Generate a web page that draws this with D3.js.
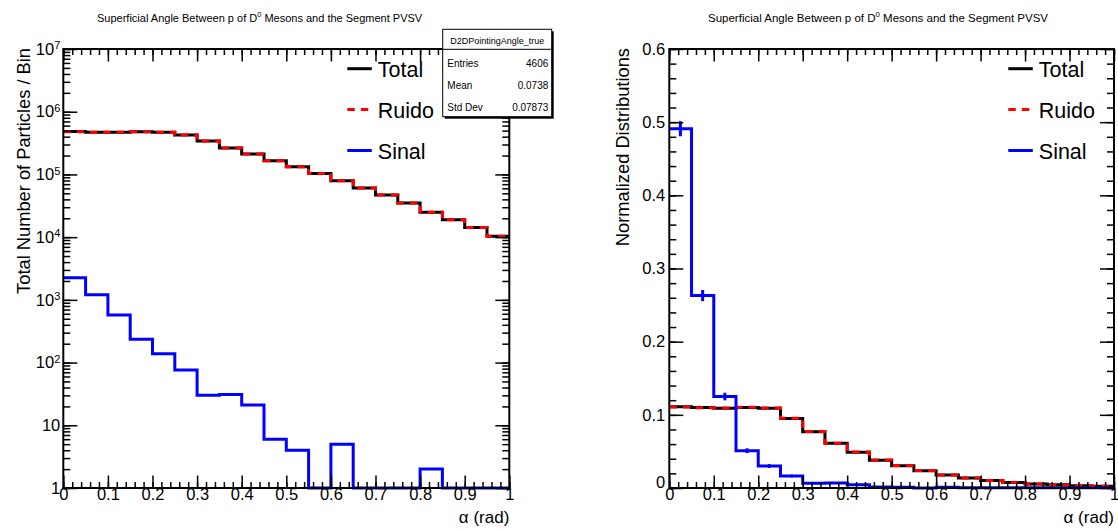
<!DOCTYPE html>
<html>
<head>
<meta charset="utf-8">
<script src="https://cdn.jsdelivr.net/npm/d3@7"></script>
<style>
  body { margin: 0; background: #fff; }
  svg { font-family: "Liberation Sans", Arial, Helvetica, sans-serif; }
</style>
</head>
<body>
<svg id="chart" width="1118" height="529"></svg>
<script>
// bin edges of the histograms (alpha in rad)
const binEdges = [0, 0.05, 0.1, 0.15, 0.2, 0.25, 0.3, 0.35, 0.4, 0.45, 0.5,
                  0.55, 0.6, 0.65, 0.7, 0.75, 0.8, 0.85, 0.9, 0.95, 1.0];

// left pad: raw counts per bin
const countsTotal = [482000, 472000, 472000, 478000, 470000, 427000, 342000, 265000, 212000, 166000,
                     132000, 103000, 79000, 61000, 47000, 35000, 25000, 19000, 14200, 10300];
const countsRuido = [479700, 470800, 471400, 477800, 469900, 426900, 341970, 264970, 211980, 165990,
                     131990, 103000, 78995, 60999, 46999, 34999, 24998, 18999, 14199, 10299];
const countsSinal = [2257, 1211, 576, 235, 138, 76, 30, 31, 21, 6,
                     4, 0, 5, 1, 1, 1, 2, 1, 1, 1];

// right pad: normalized distributions
const normTotal = [0.111, 0.110, 0.109, 0.110, 0.109, 0.095, 0.077, 0.061, 0.049, 0.038,
                   0.0305, 0.0237, 0.0178, 0.0135, 0.0102, 0.0075, 0.0056, 0.0043, 0.0032, 0.0023];
const normRuido = [0.1108, 0.1098, 0.1092, 0.1102, 0.1092, 0.0952, 0.0772, 0.0612, 0.0491, 0.0381,
                   0.0306, 0.0238, 0.0178, 0.0136, 0.0102, 0.0075, 0.0056, 0.0043, 0.0032, 0.0023];
const normSinal = [0.491, 0.263, 0.125, 0.051, 0.030, 0.0165, 0.0065, 0.0067, 0.0046, 0.0013,
                   0.0009, 0, 0.0011, 0.0002, 0.0002, 0.0002, 0.0004, 0.0002, 0.0002, 0.0002];
const errSinal  = [0.0103, 0.0076, 0.0052, 0.0033, 0.0026, 0.0019, 0.0012, 0.0012, 0.0010, 0.0005,
                   0.0004, 0, 0.0005, 0.0002, 0.0002, 0.0002, 0.0003, 0.0002, 0.0002, 0.0002];

const legendLabels = ['Total', 'Ruido', 'Sinal'];
const statsLabels = ['Entries', 'Mean', 'Std Dev'];
const statsValues = ['4606', '0.0738', '0.07873'];

const svg = d3.select('#chart');
svg.append('rect').attr('width', 1118).attr('height', 529).attr('fill', '#fff');

const styles = [
  { color: '#000', dash: null },
  { color: '#ff0000', dash: '7.5,6' },
  { color: '#0000ff', dash: null }
];

function drawPanel(p) {
  const x = d3.scaleLinear().domain([0, 1]).range([p.x0, p.x1]);
  const y = p.y;
  const g = svg.append('g');

  // histograms as step lines
  const line = d3.line().curve(d3.curveStepAfter);
  p.series.forEach((vals, k) => {
    const pts = binEdges.map((e, i) => [x(e), y(Math.max(vals[Math.min(i, vals.length - 1)], p.yMin))]);
    g.append('path')
      .attr('d', line(pts))
      .attr('fill', 'none')
      .attr('stroke', styles[k].color)
      .attr('stroke-width', 3)
      .attr('stroke-dasharray', styles[k].dash);
  });

  // error bars on the signal
  if (p.errors) {
    const s = p.series[2];
    g.selectAll('.err').data(p.errors).enter().append('line')
      .attr('x1', (d, i) => x((binEdges[i] + binEdges[i + 1]) / 2))
      .attr('x2', (d, i) => x((binEdges[i] + binEdges[i + 1]) / 2))
      .attr('y1', (d, i) => y(s[i] - d))
      .attr('y2', (d, i) => y(s[i] + d))
      .attr('stroke', '#0000ff')
      .attr('stroke-width', 3);
  }

  // axes, ROOT style ticks inside
  const addAxis = (axis, tx, ty) => {
    const a = g.append('g').attr('transform', `translate(${tx},${ty})`).call(axis);
    a.select('.domain').remove();
    a.selectAll('line').attr('stroke', '#000').attr('stroke-width', 1.5);
    return a;
  };
  const xMajor = x.ticks(10), xMinor = x.ticks(50);
  addAxis(d3.axisBottom(x).tickValues(xMinor).tickSize(-6).tickSizeOuter(0).tickFormat(''), 0, p.y1);
  addAxis(d3.axisTop(x).tickValues(xMinor).tickSize(-6).tickSizeOuter(0).tickFormat(''), 0, p.y0);
  addAxis(d3.axisTop(x).tickValues(xMajor).tickSize(-12.5).tickSizeOuter(0).tickFormat(''), 0, p.y0);
  const xa = addAxis(d3.axisBottom(x).tickValues(xMajor).tickSize(-12.5).tickSizeOuter(0)
    .tickPadding(0).tickFormat(d3.format('~g')), 0, p.y1);
  xa.selectAll('text').attr('font-size', 16.5).attr('fill', '#000')
    .attr('font-family', '"Liberation Sans", Arial, sans-serif');

  addAxis(d3.axisLeft(y).tickValues(p.yMinor).tickSize(-7).tickSizeOuter(0).tickFormat(''), p.x0, 0);
  addAxis(d3.axisRight(y).tickValues(p.yMinor).tickSize(-7).tickSizeOuter(0).tickFormat(''), p.x1, 0);
  addAxis(d3.axisRight(y).tickValues(p.yMajor).tickSize(-14).tickSizeOuter(0).tickFormat(''), p.x1, 0);
  const ya = addAxis(d3.axisLeft(y).tickValues(p.yMajor).tickSize(-14).tickSizeOuter(0)
    .tickPadding(p.labPad).tickFormat(p.yFormat), p.x0, 0);
  ya.selectAll('text').attr('font-size', 16.5).attr('fill', '#000')
    .attr('font-family', '"Liberation Sans", Arial, sans-serif');
  if (p.logLabels) {
    ya.selectAll('text').each(function (d) {
      const e = Math.round(Math.log10(d));
      if (e < 2) return;
      const t = d3.select(this).text('');
      t.append('tspan').text('10');
      t.append('tspan').attr('dy', '-0.5em').attr('font-size', 11).text(e);
    });
  }
  if (p.zeroShift) {
    ya.selectAll('text').filter(d => d === 0).attr('dy', '-0.05em');
  }

  // frame
  g.append('rect')
    .attr('x', p.x0).attr('y', p.y0)
    .attr('width', p.x1 - p.x0).attr('height', p.y1 - p.y0)
    .attr('fill', 'none').attr('stroke', '#000').attr('stroke-width', 2);

  // titles
  const title = g.append('text').attr('x', p.titleX).attr('y', 21.5)
    .attr('font-size', p.titleSize).attr('fill', '#000');
  title.append('tspan').text('Superficial Angle Between p of D');
  title.append('tspan').attr('dy', -5).attr('font-size', p.titleSize * 0.68).text('0');
  title.append('tspan').attr('dy', 5).text(' Mesons and the Segment PVSV');

  g.append('text').attr('x', p.x1).attr('y', 523).attr('text-anchor', 'end')
    .attr('font-size', 17).text('\u03b1 (rad)');

  g.append('text')
    .attr('transform', `translate(${p.yTitleX},${p.y0 - 1}) rotate(-90)`)
    .attr('text-anchor', 'end').attr('font-size', 18.3).text(p.yTitle);

  // legend
  const lg = g.append('g').attr('transform', `translate(${p.legX},0)`);
  legendLabels.forEach((lab, k) => {
    const by = 76.7 + k * 40.9;
    lg.append('line').attr('x1', 0).attr('x2', 24.5).attr('y1', by - 8).attr('y2', by - 8)
      .attr('stroke', styles[k].color).attr('stroke-width', 3)
      .attr('stroke-dasharray', styles[k].dash);
    lg.append('text').attr('x', 30.5).attr('y', by).attr('font-size', 21.5).text(lab);
  });
}

// left pad: log scale counts
const yLog = d3.scaleLog().domain([1, 1e7]).range([488, 49]);
drawPanel({
  x0: 63.3, x1: 509.3, y0: 49, y1: 488,
  y: yLog, yMin: 1,
  yMajor: yLog.ticks().filter(d => Math.abs(Math.log10(d) - Math.round(Math.log10(d))) < 1e-9),
  yMinor: yLog.ticks(),
  yFormat: d3.format('~g'), logLabels: true, labPad: 3,
  series: [countsTotal, countsRuido, countsSinal],
  titleX: 97, titleSize: 11,
  yTitle: 'Total Number of Particles / Bin', yTitleX: 30,
  legX: 347.3
});

// right pad: normalized
const yLin = d3.scaleLinear().domain([0, 0.6]).range([488, 49]);
drawPanel({
  x0: 669.3, x1: 1114, y0: 49, y1: 488,
  y: yLin, yMin: 0,
  yMajor: yLin.ticks(6), yMinor: yLin.ticks(30),
  yFormat: d3.format('~g'), labPad: 4, zeroShift: true,
  series: [normTotal, normRuido, normSinal], errors: errSinal,
  titleX: 708, titleSize: 11.5,
  yTitle: 'Normalized Distributions', yTitleX: 629,
  legX: 1008.3
});

// stats box of the left pad
const sb = svg.append('g');
sb.append('rect').attr('x', 444.7).attr('y', 31.3).attr('width', 109).attr('height', 87.4).attr('fill', '#000');
sb.append('rect').attr('x', 442.7).attr('y', 29.3).attr('width', 109).attr('height', 87.4)
  .attr('fill', '#fff').attr('stroke', '#000').attr('stroke-width', 1);
sb.append('line').attr('x1', 442.7).attr('x2', 551.7).attr('y1', 49.3).attr('y2', 49.3)
  .attr('stroke', '#000').attr('stroke-width', 1);
sb.append('text').attr('x', 497.2).attr('y', 43.5).attr('text-anchor', 'middle')
  .attr('font-size', 9).text('D2DPointingAngle_true');
statsLabels.forEach((lab, i) => {
  const by = 66.5 + i * 22;
  sb.append('text').attr('x', 447.3).attr('y', by).attr('font-size', 10).text(lab);
  sb.append('text').attr('x', 548.3).attr('y', by).attr('text-anchor', 'end')
    .attr('font-size', 10).text(statsValues[i]);
});
</script>
</body>
</html>
